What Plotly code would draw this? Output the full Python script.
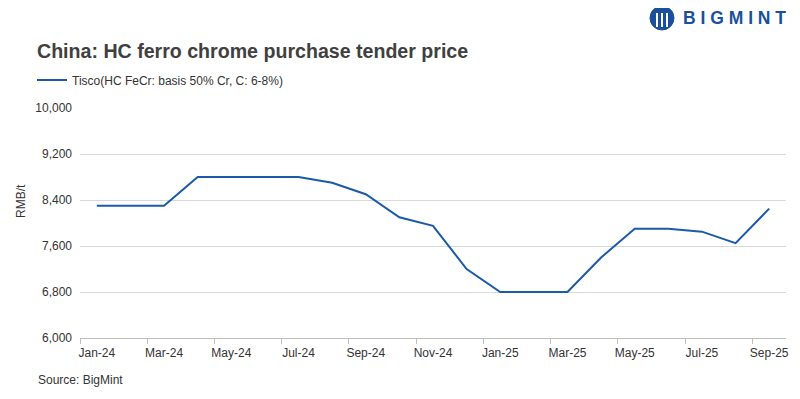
import plotly.graph_objects as go

months = ["Jan-24", "Feb-24", "Mar-24", "Apr-24", "May-24", "Jun-24", "Jul-24",
          "Aug-24", "Sep-24", "Oct-24", "Nov-24", "Dec-24", "Jan-25", "Feb-25",
          "Mar-25", "Apr-25", "May-25", "Jun-25", "Jul-25", "Aug-25", "Sep-25"]
tisco = [8300, 8300, 8300, 8800, 8800, 8800, 8800, 8700, 8500, 8100, 7950, 7200,
         6800, 6800, 6800, 7400, 7900, 7900, 7850, 7650, 8250]
series_name = "Tisco(HC FeCr: basis 50% Cr, C: 6-8%)"
y_ticks = [6000, 6800, 7600, 8400, 9200, 10000]

FONT = "Liberation Sans, Arial, sans-serif"
BLUE = "#1b5aa8"
LOGO = "#1a4f9c"

OFF = 8  # page body margin in the browser
W, H = 800 - OFF, 399 - OFF
L, R, T, B = 80 - OFF, 14, 108 - OFF, 61
PW, PH = W - L - R, H - T - B


def px(x):
    return (x - OFF - L) / PW


def py(y):
    return (H - B - (y - OFF)) / PH


fig = go.Figure()
fig.add_trace(go.Scatter(x=months, y=tisco, mode="lines", name=series_name,
                         line=dict(color=BLUE, width=2)))

fig.update_layout(
    width=W, height=H,
    margin=dict(l=L, r=R, t=T, b=B, autoexpand=False),
    paper_bgcolor="white", plot_bgcolor="white",
    font=dict(family=FONT, size=12, color="#333333"),
    title=dict(text="<b>China: HC ferro chrome purchase tender price</b>",
               x=(37 - OFF) / W, xanchor="left", xref="container",
               y=1 - (51 - OFF) / H, yanchor="middle", yref="container",
               font=dict(size=19.6, color="#404040", family=FONT)),
    showlegend=True,
    legend=dict(orientation="h", x=px(32), xref="paper", xanchor="left",
                y=py(80), yanchor="middle",
                font=dict(size=12, color="#333333", family=FONT),
                bgcolor="rgba(0,0,0,0)"),
    xaxis=dict(type="category", tickson="boundaries", dtick=2, ticks="outside",
               ticklen=5, tickcolor="#bfbfbf", showline=True, linecolor="#bfbfbf",
               showgrid=False, tickangle=0, automargin=False, ticklabelstandoff=4,
               tickfont=dict(size=12, color="#333333", family=FONT),
               range=[-0.5, 20.5]),
    yaxis=dict(range=[6000, 10000], tickvals=y_ticks, tickformat=",",
               showgrid=True, gridcolor="#d9d9d9", zeroline=False, showline=False,
               ticks="", automargin=False, ticklabelstandoff=7,
               tickfont=dict(size=12, color="#333333", family=FONT)),
)

fig.add_annotation(text="RMB/t", xref="paper", yref="paper", x=px(21), y=py(201),
                   textangle=-90, showarrow=False, xanchor="center", yanchor="middle",
                   font=dict(size=12, color="#333333", family=FONT))

fig.add_annotation(text="Source: BigMint", xref="paper", yref="paper",
                   x=px(36), y=py(380), xanchor="left", yanchor="middle",
                   showarrow=False, font=dict(size=12, color="#333333", family=FONT))

# Logo
fig.add_shape(type="circle", xref="paper", yref="paper",
              x0=px(650), x1=px(674), y0=py(30), y1=py(6),
              fillcolor=LOGO, line=dict(color=LOGO, width=1))
for cx in (657, 662, 667):
    fig.add_shape(type="line", xref="paper", yref="paper",
                  x0=px(cx), x1=px(cx), y0=py(27), y1=py(13),
                  line=dict(color="white", width=2))
fig.add_annotation(text="<b>B I G M I N T</b>", xref="paper", yref="paper",
                   x=px(681), y=py(18), xanchor="left",
                   yanchor="middle", showarrow=False,
                   font=dict(size=17.5, color=LOGO, family=FONT))

fig.write_html("out.html")
